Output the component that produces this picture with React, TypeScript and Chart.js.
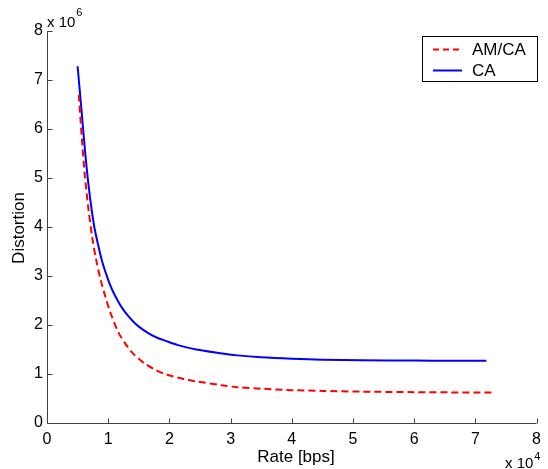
import React, { useEffect, useRef } from "react";
import { Chart, registerables } from "chart.js";

Chart.register(...registerables);

// Rate (x 10^4 bps) / Distortion (x 10^6) for CA
const caRate = [0.5, 0.57, 0.635, 0.7, 0.77, 0.82, 0.9, 1.0, 1.065, 1.15, 1.226, 1.33, 1.44, 1.55, 1.66, 1.8, 1.93, 2.14, 2.44, 2.8, 3.11, 3.5, 4.0, 4.5, 5.15, 6.0, 6.6, 7.18];
const caDist = [7.28, 6.3, 5.37, 4.63, 4.02, 3.72, 3.3, 2.92, 2.72, 2.51, 2.35, 2.18, 2.03, 1.92, 1.83, 1.74, 1.68, 1.59, 1.5, 1.43, 1.38, 1.34, 1.31, 1.29, 1.28, 1.275, 1.27, 1.27];

// Rate (x 10^4 bps) / Distortion (x 10^6) for AM/CA
const amcaRate = [0.52, 0.57, 0.62, 0.68, 0.74, 0.8, 0.877, 0.96, 1.04, 1.17, 1.28, 1.39, 1.5, 1.6, 1.75, 1.93, 2.25, 2.44, 2.85, 3.11, 3.5, 4.0, 4.5, 5.15, 6.0, 6.6, 7.27];
const amcaDist = [6.7, 5.8, 5.03, 4.34, 3.78, 3.35, 2.92, 2.55, 2.24, 1.84, 1.62, 1.44, 1.31, 1.21, 1.1, 1.0, 0.89, 0.85, 0.77, 0.73, 0.7, 0.67, 0.655, 0.64, 0.63, 0.625, 0.62];

const xTicks = [0, 1, 2, 3, 4, 5, 6, 7, 8];
const yTicks = [0, 1, 2, 3, 4, 5, 6, 7, 8];
const seriesNames = ["AM/CA", "CA"];
const xTitle = "Rate [bps]";
const yTitle = "Distortion";
const xExp = "4";
const yExp = "6";

const FONT = "'Liberation Sans', Arial, Helvetica, sans-serif";
const RED = "#ff0000";
const BLUE = "#0000ff";
const DASH = [7, 4];

const overlay = {
  id: "overlay",
  afterDraw(chart: any) {
    const ctx = chart.ctx as CanvasRenderingContext2D;
    const xs = chart.scales.x;
    const ys = chart.scales.y;
    const { left, right, top, bottom } = chart.chartArea;
    ctx.save();
    // axes
    ctx.strokeStyle = "#404040";
    ctx.lineWidth = 1;
    ctx.setLineDash([]);
    ctx.beginPath();
    const lx = Math.round(left) + 0.5;
    const by = Math.round(bottom) + 0.5;
    ctx.moveTo(lx, top);
    ctx.lineTo(lx, by);
    ctx.lineTo(right, by);
    xTicks.forEach((t) => {
      const px = Math.round(xs.getPixelForValue(t)) + 0.5;
      ctx.moveTo(px, by);
      ctx.lineTo(px, by - 5);
    });
    yTicks.forEach((t) => {
      const py = Math.round(ys.getPixelForValue(t)) + 0.5;
      ctx.moveTo(lx, py);
      ctx.lineTo(lx + 5, py);
    });
    ctx.stroke();

    // exponents
    ctx.fillStyle = "#000";
    ctx.textAlign = "left";
    ctx.textBaseline = "alphabetic";
    ctx.font = `15px ${FONT}`;
    ctx.fillText("x 10", 47, 27);
    const w1 = ctx.measureText("x 10").width;
    ctx.font = `11px ${FONT}`;
    ctx.fillText(yExp, 47 + w1 + 1, 16);
    ctx.font = `15px ${FONT}`;
    ctx.fillText("x 10", 505, 468);
    const w2 = ctx.measureText("x 10").width;
    ctx.font = `11px ${FONT}`;
    ctx.fillText(xExp, 505 + w2 + 1, 460);

    // axis titles
    ctx.font = `17px ${FONT}`;
    ctx.textAlign = "center";
    ctx.fillText(xTitle, 296, 462);
    ctx.save();
    ctx.translate(24, 228);
    ctx.rotate(-Math.PI / 2);
    ctx.fillText(yTitle, 0, 0);
    ctx.restore();

    // legend
    ctx.fillStyle = "#fff";
    ctx.fillRect(423, 36, 115, 45);
    ctx.strokeStyle = "#000";
    ctx.lineWidth = 1;
    ctx.strokeRect(422.5, 36.5, 115, 45);
    const entries = [
      { name: seriesNames[0], color: RED, dash: [6, 4], y: 49.5, base: 55 },
      { name: seriesNames[1], color: BLUE, dash: [], y: 70.5, base: 76 },
    ];
    entries.forEach((e) => {
      ctx.strokeStyle = e.color;
      ctx.lineWidth = 2;
      ctx.setLineDash(e.dash);
      ctx.beginPath();
      ctx.moveTo(433, e.y);
      ctx.lineTo(462, e.y);
      ctx.stroke();
      ctx.setLineDash([]);
      ctx.fillStyle = "#000";
      ctx.textAlign = "left";
      ctx.font = `17px ${FONT}`;
      ctx.fillText(e.name, 472, e.base);
    });
    ctx.restore();
  },
};

export default function App() {
  const ref = useRef<HTMLCanvasElement | null>(null);
  useEffect(() => {
    if (!ref.current) return;
    const chart = new Chart(ref.current, {
      type: "scatter",
      data: {
        datasets: [
          {
            label: seriesNames[0],
            data: amcaRate.map((x, i) => ({ x, y: amcaDist[i] })),
            showLine: true,
            borderColor: RED,
            borderWidth: 2,
            borderDash: DASH,
            pointRadius: 0,
            tension: 0.3,
            fill: false,
          },
          {
            label: seriesNames[1],
            data: caRate.map((x, i) => ({ x, y: caDist[i] })),
            showLine: true,
            borderColor: BLUE,
            borderWidth: 2,
            pointRadius: 0,
            tension: 0.3,
            fill: false,
          },
        ],
      },
      options: {
        responsive: false,
        animation: false,
        layout: { padding: { top: 31, right: 5, left: 0, bottom: 0 } },
        plugins: { legend: { display: false }, tooltip: { enabled: false } },
        scales: {
          x: {
            type: "linear",
            min: 0,
            max: 8,
            afterFit: (s: any) => {
              s.height = 46;
            },
            afterBuildTicks: (s: any) => {
              s.ticks = xTicks.map((v) => ({ value: v }));
            },
            grid: { display: false, drawTicks: false },
            border: { display: false },
            ticks: {
              padding: 7,
              color: "#000",
              font: { family: FONT, size: 16 },
              maxRotation: 0,
              callback: (v: any) => String(v),
            },
          },
          y: {
            type: "linear",
            min: 0,
            max: 8,
            afterFit: (s: any) => {
              s.width = 47;
            },
            afterBuildTicks: (s: any) => {
              s.ticks = yTicks.map((v) => ({ value: v }));
            },
            grid: { display: false, drawTicks: false },
            border: { display: false },
            ticks: {
              padding: 4,
              color: "#000",
              font: { family: FONT, size: 16 },
              callback: (v: any) => String(v),
            },
          },
        },
      },
      plugins: [overlay],
    });
    return () => chart.destroy();
  }, []);
  return (
    <div style={{ position: "fixed", left: 0, top: 0, width: 548, height: 469, background: "#fff" }}>
      <canvas ref={ref} width={548} height={469} style={{ display: "block" }} />
    </div>
  );
}
